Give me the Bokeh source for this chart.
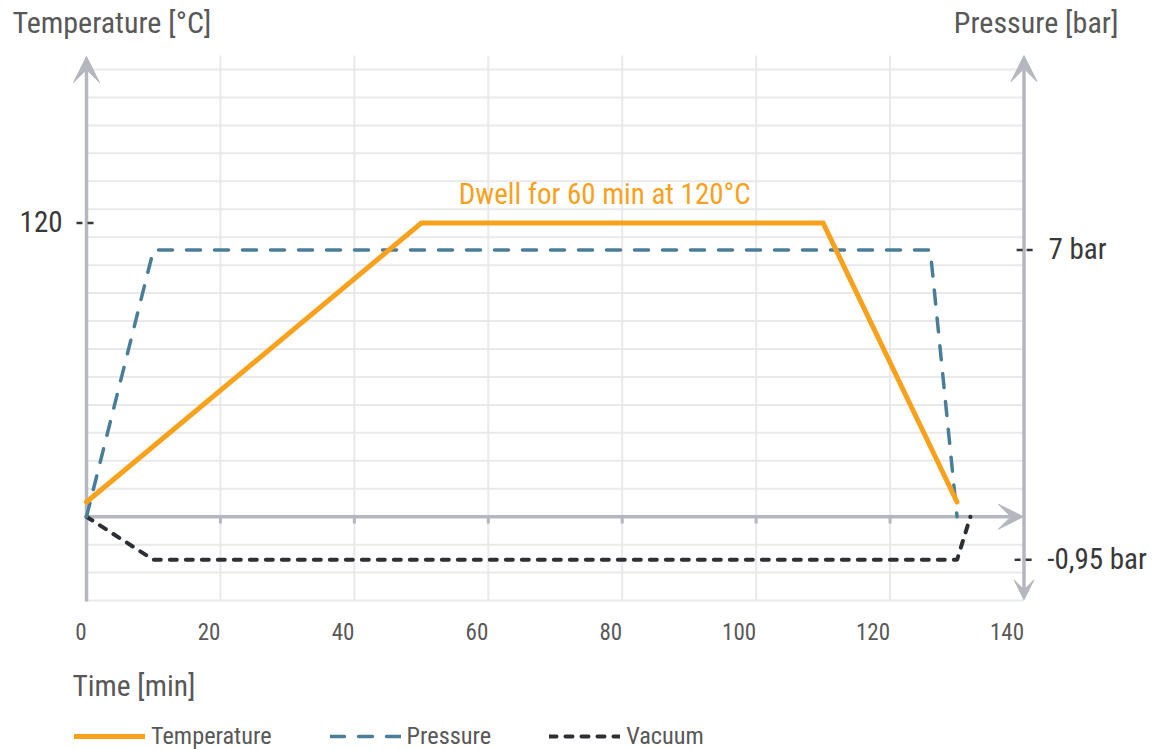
from bokeh.plotting import figure
from bokeh.models import Range1d, Arrow, VeeHead, Legend, LegendItem
from bokeh.core.properties import value
from bokeh.embed import file_html
from bokeh.resources import INLINE

# ---------------- data ----------------
temp_time = [0, 50, 110, 130]
temp_vals = [6, 120, 120, 6]
pres_time = [0, 10, 126, 130]
pres_vals = [0, 7, 7, 0]
vac_time = [0, 10, 130, 132]
vac_vals = [0, -0.95, -0.95, 0]

time_ticks = [0, 20, 40, 60, 80, 100, 120, 140]
time_tick_labels = ["0", "20", "40", "60", "80", "100", "120", "140"]
temp_ticks = [120]
temp_tick_labels = ["120"]
pres_ticks = [7]
pres_tick_labels = ["7 bar"]
vac_ticks = [-0.95]
vac_tick_labels = ["-0,95 bar"]
series_names = ["Temperature", "Pressure", "Vacuum"]
dwell_text = "Dwell for 60 min at 120°C"

# ---------------- styles / layout ----------------
FONT = "Roboto Condensed, DejaVu Sans Condensed, Roboto"
W, H = 1162, 749
PX_PER_MIN = 6.6964
X0_PX = 86.0          # canvas x of t = 0
Y0_PX = 516.2         # canvas y of the zero line
PX_PER_C = 2.4475
PX_PER_BAR = 38.1
PX_PER_BAR_VAC = 45.4
BASE_FIX = -0.38      # em shift so the text baseline sits where intended

ORANGE = "#F8A11C"
BLUE = "#4A7E98"
DARK = "#2C2F33"
AXIS = "#B4B7BE"
GRID = "#E9E9EB"
TXT = "#585858"
TXT_DARK = "#383838"

x_range = Range1d(-X0_PX / PX_PER_MIN, (W - X0_PX) / PX_PER_MIN)
y_range = Range1d(-(H - Y0_PX) / PX_PER_C, Y0_PX / PX_PER_C)

p = figure(width=W, height=H, x_range=x_range, y_range=y_range,
           x_axis_location=None, y_axis_location=None, title=None,
           toolbar_location=None, output_backend="svg", min_border=0,
           outline_line_color=None, background_fill_color="white",
           border_fill_color="white")
p.extra_y_ranges = {
    "pressure": Range1d(-(H - Y0_PX) / PX_PER_BAR, Y0_PX / PX_PER_BAR),
    "vacuum": Range1d(-(H - Y0_PX) / PX_PER_BAR_VAC, Y0_PX / PX_PER_BAR_VAC),
}
for g in p.grid:
    g.visible = False

# ---------------- grid ----------------
GRID_STEP_C = 11.42
GRID_BOTTOM_C = -34.3
GRID_TOP_C = 188.4
h_levels = [k * GRID_STEP_C for k in range(-3, 17)]
p.segment(x0=[time_ticks[0]] * len(h_levels), x1=[time_ticks[-1]] * len(h_levels),
          y0=h_levels, y1=h_levels, line_color=GRID, line_width=2, level="underlay")
inner = time_ticks[1:-1]
p.segment(x0=inner, x1=inner, y0=[GRID_BOTTOM_C] * len(inner), y1=[GRID_TOP_C] * len(inner),
          line_color=GRID, line_width=2, level="underlay")

# ---------------- axes (arrows) ----------------
p.add_layout(Arrow(end=VeeHead(size=26, fill_color=AXIS, line_color=AXIS, line_width=1),
                   x_start=0, y_start=GRID_BOTTOM_C - 0.3, x_end=0, y_end=188.0,
                   line_color=AXIS, line_width=3.5, level="underlay"))
p.add_layout(Arrow(start=VeeHead(size=20, fill_color=AXIS, line_color=AXIS, line_width=1),
                   end=VeeHead(size=26, fill_color=AXIS, line_color=AXIS, line_width=1),
                   x_start=140, y_start=-33.95, x_end=140, y_end=188.4,
                   line_color=AXIS, line_width=3.5, level="underlay"))
p.add_layout(Arrow(end=VeeHead(size=25, fill_color=AXIS, line_color=AXIS, line_width=1),
                   x_start=0, y_start=0, x_end=139.9, y_end=0,
                   line_color=AXIS, line_width=3.5, level="underlay"))
# small ticks on the time axis
p.segment(x0=inner, x1=inner, y0=[0] * len(inner), y1=[-2.8] * len(inner),
          line_color=AXIS, line_width=3, level="underlay")

# dashed tick marks on the value axes
p.segment(x0=[-1.49], x1=[1.24], y0=temp_ticks, y1=temp_ticks,
          line_color=TXT_DARK, line_width=2.5, line_dash="6 5")
p.segment(x0=[140 - 1.1], x1=[140 + 1.6], y0=pres_ticks, y1=pres_ticks,
          line_color=TXT_DARK, line_width=2.5, line_dash="6 4", y_range_name="pressure")
p.segment(x0=[140 - 1.4], x1=[140 + 1.4], y0=vac_ticks, y1=vac_ticks,
          line_color=TXT_DARK, line_width=2.5, line_dash="6 5", y_range_name="vacuum")

# ---------------- series ----------------
r_vac = p.line(vac_time, vac_vals, line_color=DARK, line_width=4, line_dash="7 9",
               line_cap="round", y_range_name="vacuum")
r_pres = p.line(pres_time, pres_vals, line_color=BLUE, line_width=3.5, line_dash="14 14",
                line_cap="round", y_range_name="pressure")
r_temp = p.line(temp_time, temp_vals, line_color=ORANGE, line_width=5,
                line_cap="round", line_join="miter")

# ---------------- texts ----------------
f = value(FONT)


def put_text(x, y, text, size, color, align, extra_offset=0.0, **kw):
    p.text(x=x, y=y, text=text, text_font=f, text_font_size=value(f"{size}px"),
           text_color=color, text_align=align, text_baseline="alphabetic",
           y_offset=extra_offset + BASE_FIX * size, **kw)


put_text([-11.05], [197.3], ["Temperature [°C]"], 30, TXT, "left")
put_text([154.1], [197.3], ["Pressure [bar]"], 30, TXT, "right")
put_text([-3.58], temp_ticks, temp_tick_labels, 29, TXT_DARK, "right", 9.2)
put_text([143.66], pres_ticks, pres_tick_labels, 29, TXT_DARK, "left", 9.8,
         y_range_name="pressure")
put_text([143.47], vac_ticks, vac_tick_labels, 29, TXT_DARK, "left", 9.7,
         y_range_name="vacuum")
put_text(time_ticks, [-50.6] * len(time_ticks), time_tick_labels, 23, TXT, "right")
put_text([-2.1], [-73.75], ["Time [min]"], 29.5, TXT, "left")
put_text([77.4], [127.4], [dwell_text], 29, ORANGE, "center")

# ---------------- legend ----------------
legend = Legend(items=[LegendItem(label=series_names[0], renderers=[r_temp]),
                       LegendItem(label=series_names[1], renderers=[r_pres]),
                       LegendItem(label=series_names[2], renderers=[r_vac])],
                location=(74, -1), orientation="horizontal",
                glyph_width=71, glyph_height=18, label_height=18,
                label_standoff=6, spacing=58, padding=0, margin=0,
                border_line_alpha=0, background_fill_alpha=0,
                label_text_font=FONT, label_text_font_size="24.3px",
                label_text_color=TXT)
p.add_layout(legend)

open("out.html", "w").write(file_html(p, INLINE))
